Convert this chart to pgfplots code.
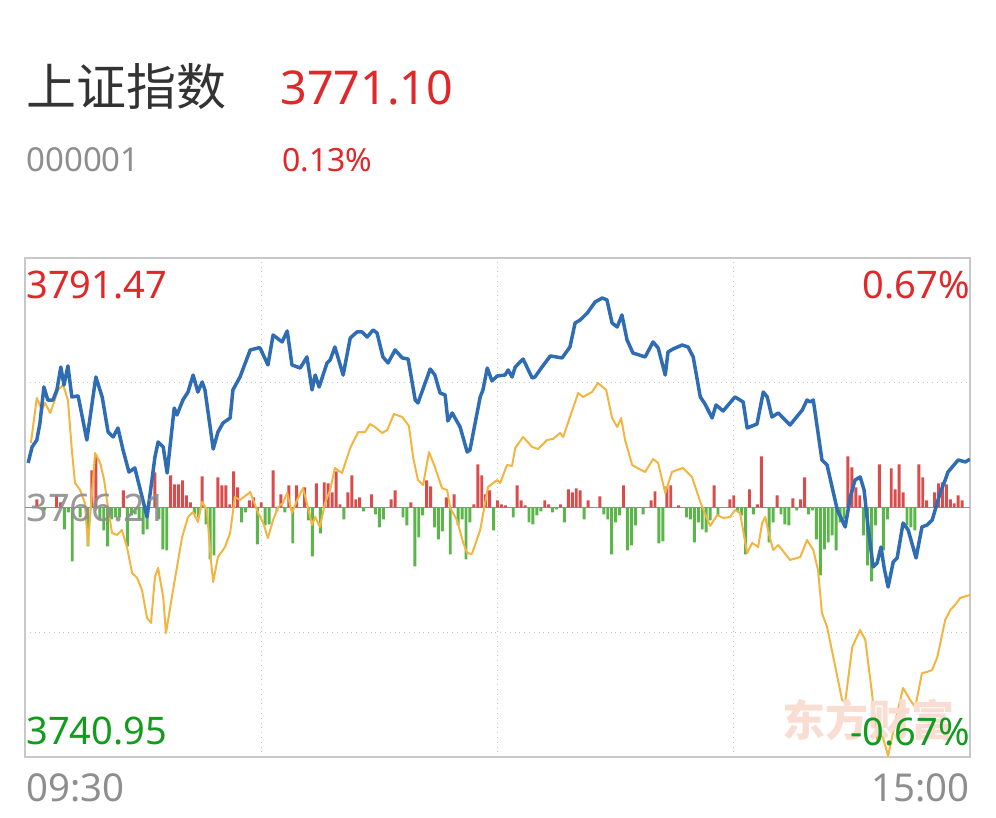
\documentclass[border=0pt]{standalone}
\usepackage{fontspec}
\setmainfont{Noto Sans}
\newfontfamily\cjk{Noto Sans CJK SC}
\usepackage{pgfplots}
\pgfplotsset{compat=1.18}
\definecolor{titlegray}{HTML}{333333}
\definecolor{numred}{HTML}{E0282A}
\definecolor{labgray}{HTML}{8E8E8E}
\definecolor{labgreen}{HTML}{119C1E}
\definecolor{barred}{HTML}{DB4B4B}
\definecolor{bargreen}{HTML}{5BB54A}
\definecolor{priceblue}{HTML}{2E6DB4}
\definecolor{avgyellow}{HTML}{F3B541}
\definecolor{gridgray}{HTML}{C8C8C8}
\definecolor{wmark}{HTML}{F9DDD3}
\begin{document}
\begin{tikzpicture}
\path[use as bounding box] (0,0) rectangle (498pt,409pt);
% frame and grid
\begin{axis}[at={(12.5pt,30.5pt)},anchor=south west,scale only axis,
  width=472.5pt,height=249.5pt,
  xmin=0,xmax=240,ymin=3740.95,ymax=3791.47,
  axis line style={draw=gridgray,line width=0.7pt},
  xtick={60,120,180},ytick={3753.58,3778.84},
  xticklabels={},yticklabels={},major tick length=0pt,
  grid=major,grid style={dotted,color=gridgray,line width=0.5pt}]
\end{axis}
% bars
\begin{axis}[at={(12.5pt,30.5pt)},anchor=south west,scale only axis,
  width=472.5pt,height=249.5pt,hide axis,
  xmin=0,xmax=240,ymin=-249.5,ymax=249.5]
\addplot[draw=labgray,line width=0.9pt] coordinates {(0,0) (240,0)};
\addplot[ybar,bar shift=0pt,bar width=1.45pt,fill=barred,draw=none] coordinates {
(3,8) (8,12) (9,5) (17,37) (18,52) (25,17) (33,35) (37,32) (38,23) (39,23) (40,27) (41,12) (42,5) (45,31) (49,30) (50,22) (51,22) (52,3) (53,36) (54,20) (57,7) (58,10) (60,5) (63,37) (65,13) (67,22) (69,22) (71,20) (74,24) (76,25) (77,24) (78,15) (79,36) (80,3) (82,15) (83,32) (84,8) (85,10) (88,13) (93,8) (94,17) (98,5) (102,27) (103,21) (107,10) (109,13) (114,3) (115,43) (116,32) (117,13) (118,17) (120,7) (121,3) (122,2) (125,22) (126,7) (127,2) (132,7) (133,3) (136,3) (138,18) (139,15) (140,19) (141,17) (143,7) (146,11) (152,22) (159,7) (160,16) (163,21) (164,22) (166,2) (175,22) (179,8) (180,12) (184,18) (186,3) (187,51) (191,12) (195,9) (197,8) (198,30) (209,51) (210,40) (211,20) (212,12) (217,43) (220,39) (221,18) (222,43) (223,15) (227,43) (228,30) (229,7) (231,15) (232,24) (233,25) (234,23) (235,8) (236,4) (237,12) (238,7)};
\addplot[ybar,bar shift=0pt,bar width=1.45pt,fill=bargreen,draw=none] coordinates {
(5,-3) (10,-22) (11,-5) (12,-54) (14,-10) (16,-39) (19,-12) (20,-23) (21,-39) (22,-12) (23,-10) (24,-10) (26,-39) (27,-8) (28,-7) (29,-12) (30,-27) (31,-22) (34,-12) (35,-42) (36,-43) (43,-7) (44,-10) (46,-17) (47,-52) (48,-48) (55,-15) (56,-5) (59,-37) (61,-18) (62,-17) (64,-4) (66,-5) (68,-36) (72,-13) (73,-49) (75,-26) (81,-12) (86,-4) (89,-7) (90,-20) (91,-12) (96,-10) (97,-18) (99,-59) (100,-30) (101,-8) (104,-20) (105,-32) (106,-24) (108,-47) (110,-18) (111,-12) (112,-52) (113,-15) (119,-23) (124,-10) (128,-15) (129,-17) (130,-8) (131,-4) (134,-5) (135,-2) (137,-15) (142,-12) (147,-7) (148,-12) (149,-47) (150,-15) (151,-8) (153,-43) (154,-38) (155,-18) (157,-7) (161,-36) (162,-34) (168,-10) (169,-12) (170,-35) (171,-15) (172,-22) (173,-25) (174,-13) (176,-8) (181,-4) (182,-8) (183,-47) (185,-7) (189,-35) (190,-15) (192,-7) (193,-17) (194,-18) (196,-3) (199,-7) (200,-3) (201,-32) (202,-68) (203,-42) (204,-35) (205,-28) (206,-43) (207,-15) (208,-12) (213,-28) (214,-58) (215,-74) (216,-18) (218,-43) (219,-12) (224,-18) (225,-20) (226,-23)};
\end{axis}
% price lines
\begin{axis}[at={(12.5pt,30.5pt)},anchor=south west,scale only axis,
  width=472.5pt,height=249.5pt,hide axis,
  xmin=0,xmax=240,ymin=3740.95,ymax=3791.47]
\addplot[color=avgyellow,line width=1pt,line join=round] coordinates {
(1.5,3772.74) (3.0,3777.30) (4.3,3776.08) (5.1,3776.79) (6.4,3775.78) (7.4,3776.89) (8.4,3778.11) (9.7,3778.61) (10.9,3777.09) (11.9,3772.03) (12.7,3768.69) (14.0,3767.98) (15.2,3766.67) (16.0,3762.41) (17.8,3771.73) (19.1,3770.72) (20.1,3768.99) (20.8,3766.97) (21.6,3764.94) (22.1,3763.63) (23.4,3763.43) (24.6,3763.93) (25.9,3762.21) (27.2,3759.58) (28.5,3759.07) (29.7,3757.86) (31.0,3755.02) (32.0,3754.52) (33.0,3759.17) (33.8,3760.09) (35.1,3757.15) (35.8,3753.50) (37.3,3757.15) (38.6,3760.19) (39.9,3763.22) (41.4,3765.25) (42.7,3765.75) (43.9,3764.74) (45.0,3766.77) (46.2,3765.96) (47.2,3760.90) (47.8,3758.67) (49.0,3761.20) (50.8,3762.21) (52.1,3763.63) (53.3,3767.27) (54.6,3766.97) (57.2,3767.78) (59.2,3765.65) (60.5,3764.64) (61.7,3763.12) (63.0,3764.94) (64.3,3766.26) (65.5,3766.67) (66.6,3767.68) (67.8,3765.65) (69.1,3766.97) (70.6,3768.18) (71.9,3766.16) (72.9,3764.44) (73.7,3765.25) (74.9,3764.24) (76.2,3766.67) (77.5,3767.98) (78.7,3770.21) (80.5,3769.70) (82.6,3772.23) (84.6,3773.85) (86.4,3773.85) (87.6,3774.66) (88.9,3774.36) (90.7,3773.75) (92.0,3774.06) (93.7,3775.68) (95.8,3775.37) (97.5,3774.46) (98.6,3771.22) (99.8,3768.99) (101.1,3768.49) (102.6,3771.83) (104.1,3770.31) (105.9,3768.18) (107.2,3767.98) (108.0,3766.16) (109.7,3764.94) (111.3,3762.62) (112.3,3761.60) (113.5,3761.50) (115.6,3763.93) (117.6,3768.29) (119.9,3768.99) (120.7,3768.69) (122.4,3770.51) (123.7,3770.41) (124.5,3772.23) (126.5,3773.35) (128.8,3772.34) (130.3,3772.13) (132.6,3773.04) (134.1,3773.15) (135.9,3773.75) (136.7,3773.35) (138.4,3775.37) (140.5,3777.80) (141.7,3777.40) (144.0,3777.90) (145.5,3778.81) (147.6,3778.11) (149.1,3775.27) (150.4,3774.36) (151.4,3775.27) (152.4,3773.04) (154.2,3770.51) (155.5,3770.21) (157.5,3769.80) (159.5,3771.12) (160.8,3770.72) (162.6,3767.68) (164.3,3769.80) (165.6,3770.01) (167.1,3770.21) (169.4,3769.30) (171.5,3766.77) (174.0,3764.34) (175.8,3765.45) (177.3,3765.15) (179.1,3765.25) (180.3,3765.96) (181.6,3765.65) (183.4,3761.60) (184.7,3762.62) (186.2,3762.21) (187.2,3764.64) (188.0,3765.25) (188.7,3763.93) (190.0,3761.91) (191.3,3762.41) (194.3,3760.90) (196.9,3761.20) (198.6,3762.92) (200.2,3761.91) (201.4,3759.88) (202.4,3755.53) (203.7,3754.11) (205.7,3750.26) (207.5,3746.72) (208.3,3746.52) (210.1,3752.09) (212.1,3753.81) (213.4,3752.80) (215.1,3747.43) (216.4,3742.67) (217.7,3743.20) (219.2,3741.05) (221.5,3745.40) (223.0,3747.94) (224.8,3746.72) (226.1,3746.01) (227.8,3749.45) (229.1,3749.56) (230.4,3749.76) (231.7,3751.07) (233.7,3754.82) (235.0,3755.83) (236.2,3756.34) (237.5,3757.05) (240,3757.35)};
\addplot[color=priceblue,line width=1.75pt,line join=round] coordinates {
(0.8,3770.72) (1.8,3772.34) (3.0,3773.04) (3.8,3774.77) (4.8,3778.41) (5.8,3777.09) (7.1,3777.09) (8.1,3778.11) (9.1,3780.43) (9.9,3778.61) (10.9,3780.54) (11.9,3777.40) (13.5,3777.50) (15.7,3773.04) (18.0,3779.42) (19.6,3777.40) (21.1,3773.85) (22.4,3773.35) (23.6,3774.26) (24.9,3772.03) (26.4,3769.80) (27.9,3770.21) (31.0,3765.25) (33.0,3771.32) (33.8,3772.84) (35.1,3772.34) (36.1,3769.70) (37.9,3776.28) (38.6,3775.58) (40.1,3777.09) (41.4,3777.90) (42.7,3779.62) (43.9,3777.90) (45.0,3778.92) (45.7,3778.11) (47.8,3772.13) (49.0,3773.85) (50.3,3774.77) (52.1,3775.27) (52.8,3778.11) (54.6,3779.42) (57.2,3782.16) (59.2,3782.36) (59.7,3782.36) (61.7,3780.64) (63.0,3783.67) (65.3,3782.97) (66.6,3784.08) (67.8,3780.64) (69.9,3780.33) (71.6,3781.45) (72.9,3778.11) (73.7,3779.62) (74.7,3778.41) (76.7,3780.84) (77.5,3781.14) (78.7,3782.46) (80.8,3779.62) (82.6,3783.37) (84.3,3783.98) (85.6,3783.98) (86.9,3783.47) (88.4,3784.18) (89.4,3783.88) (90.9,3781.45) (92.2,3780.84) (94.0,3782.16) (95.8,3781.35) (97.3,3781.24) (99.1,3777.09) (99.8,3776.79) (102.9,3780.23) (104.1,3779.62) (105.4,3777.80) (106.7,3777.60) (107.4,3774.97) (108.5,3775.78) (110.5,3774.36) (112.3,3771.83) (113.0,3772.03) (115.6,3777.40) (116.3,3778.11) (117.4,3780.33) (118.6,3779.02) (119.9,3779.52) (121.9,3779.62) (122.7,3780.13) (123.7,3779.42) (124.5,3780.43) (126.5,3781.24) (128.8,3779.32) (129.5,3779.42) (131.3,3780.43) (133.4,3781.55) (136.4,3781.35) (138.4,3782.46) (139.7,3784.89) (141.0,3785.19) (142.8,3785.90) (144.8,3787.02) (146.6,3787.42) (147.8,3787.22) (149.1,3784.89) (150.4,3784.48) (151.6,3785.70) (152.9,3783.17) (154.4,3781.85) (157.5,3781.45) (159.5,3782.97) (160.8,3782.36) (162.6,3779.62) (163.3,3781.95) (164.6,3782.26) (166.9,3782.66) (168.4,3782.46) (169.7,3781.45) (171.5,3777.40) (172.7,3776.69) (174.5,3775.27) (175.5,3776.59) (177.3,3775.98) (180.3,3777.40) (182.4,3776.89) (183.4,3774.26) (185.9,3774.66) (187.5,3777.90) (188.5,3777.40) (189.7,3775.37) (191.3,3775.78) (194.3,3774.56) (197.4,3776.08) (198.6,3777.09) (199.4,3776.89) (200.2,3777.09) (202.4,3771.02) (203.7,3770.51) (206.3,3765.96) (208.3,3764.24) (209.6,3767.27) (210.8,3768.99) (212.1,3769.30) (213.1,3767.98) (214.1,3764.24) (215.4,3760.19) (216.4,3760.59) (217.4,3762.21) (218.2,3760.09) (219.2,3758.16) (220.5,3760.69) (221.5,3761.10) (223.0,3764.64) (224.3,3763.93) (226.3,3761.10) (227.8,3764.24) (229.1,3764.44) (230.4,3764.94) (232.4,3767.68) (233.7,3768.99) (234.4,3769.80) (237.0,3771.02) (238.8,3770.82) (240,3771.10)};
\end{axis}
\begin{scope}[x=0.5pt,y=-0.5pt,shift={(0pt,409pt)}]
\node[anchor=base west,inner sep=0pt,text=titlegray,font=\cjk\fontsize{25}{25}\selectfont] at (26,106) {上证指数};
\node[anchor=base west,inner sep=0pt,text=numred,font=\fontsize{23.3}{23.3}\selectfont] at (280,105) {3771.10};
\node[anchor=base west,inner sep=0pt,text=labgray,font=\fontsize{16.5}{16.5}\selectfont] at (26,172) {000001};
\node[anchor=base west,inner sep=0pt,text=numred,font=\fontsize{16}{16}\selectfont] at (282,172) {0.13\%};
\node[anchor=base west,inner sep=0pt,text=numred,font=\fontsize{19}{19}\selectfont] at (26,299) {3791.47};
\node[anchor=base east,inner sep=0pt,text=numred,font=\fontsize{19}{19}\selectfont] at (970,299) {0.67\%};
\node[anchor=base west,inner sep=0pt,text=labgray,font=\fontsize{19}{19}\selectfont,opacity=0.9] at (26,522) {3766.21};
\node[anchor=base west,inner sep=0pt,text=wmark,font=\cjk\bfseries\fontsize{21.5}{21.5}\selectfont] at (782,737) {东方财富};
\node[anchor=base west,inner sep=0pt,text=labgreen,font=\fontsize{19}{19}\selectfont] at (26,745) {3740.95};
\node[anchor=base east,inner sep=0pt,text=labgreen,font=\fontsize{19}{19}\selectfont] at (970,746) {-0.67\%};
\node[anchor=base west,inner sep=0pt,text=labgray,font=\fontsize{19.2}{19.2}\selectfont] at (26,802) {09:30};
\node[anchor=base east,inner sep=0pt,text=labgray,font=\fontsize{19.2}{19.2}\selectfont] at (970,802) {15:00};
\end{scope}
\end{tikzpicture}
\end{document}
